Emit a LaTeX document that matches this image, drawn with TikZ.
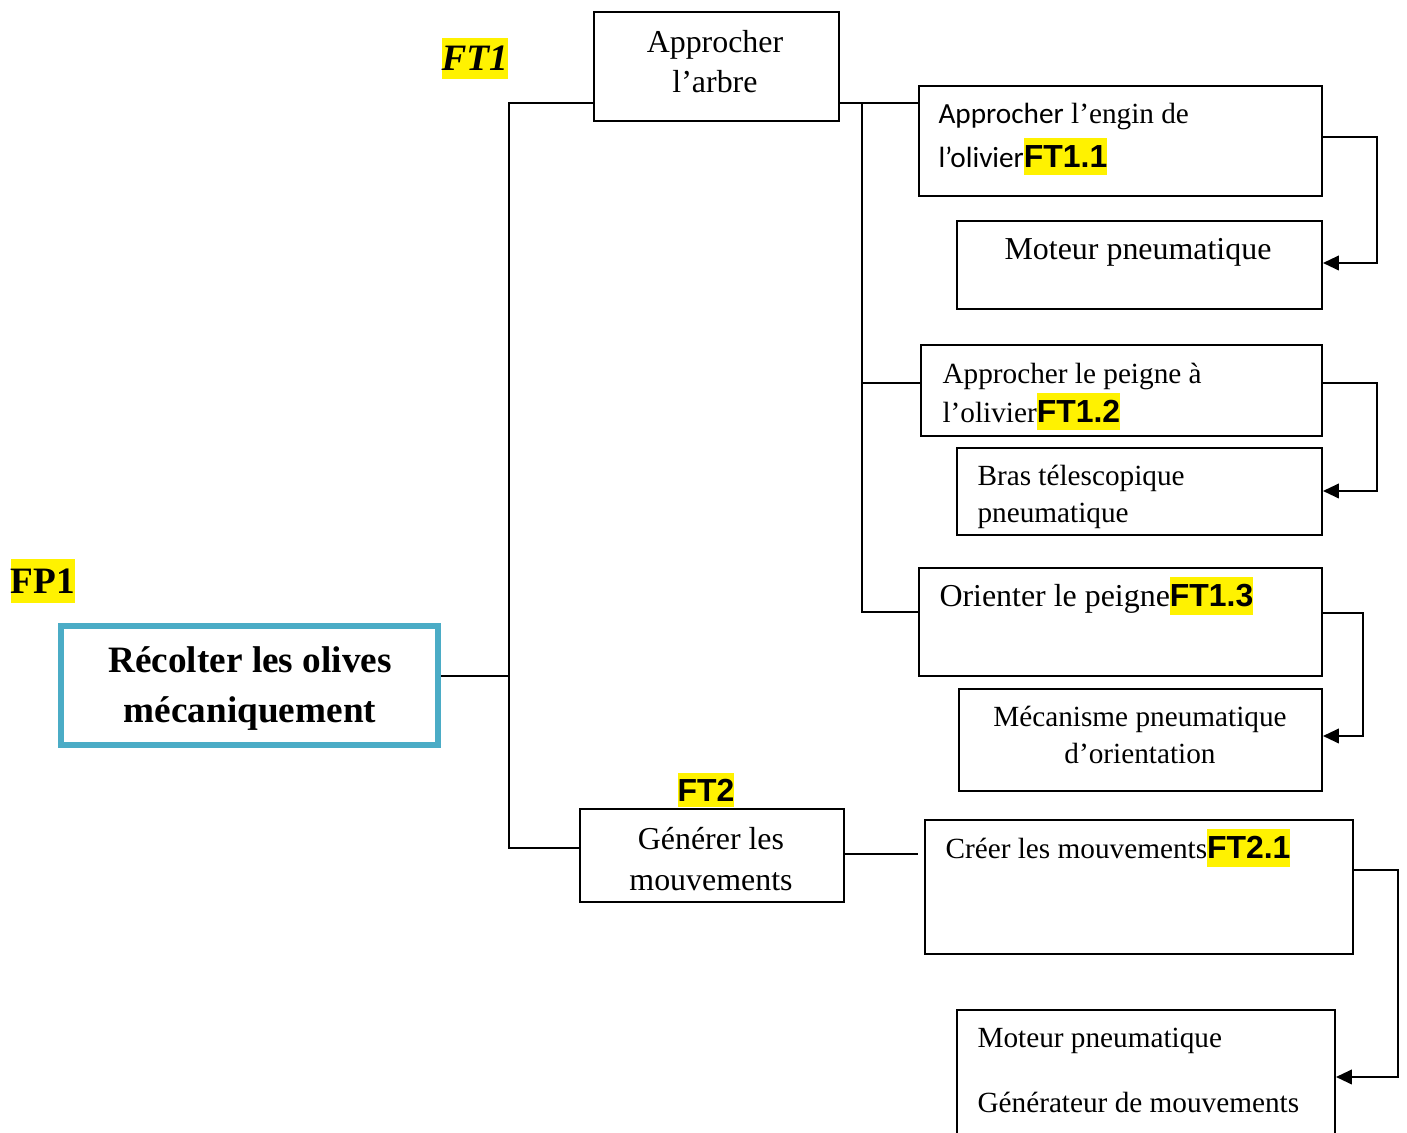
\documentclass[tikz,border=0pt]{standalone}
\usepackage{fontspec}
\setmainfont{Liberation Serif}
\newfontfamily\arialf{Liberation Sans}
\newfontfamily\calibf{Carlito}
\usetikzlibrary{arrows.meta}

\definecolor{fpblue}{RGB}{75,172,198}
\newlength\pxu
\setlength\pxu{0.376pt}
\newcommand\topln{\rule{0pt}{12pt}}
\newcommand\ftmark[1]{{\fontsize{12}{14}\selectfont\setlength{\fboxsep}{0pt}\colorbox{yellow}{\rule[-3pt]{0pt}{14.2pt}\arialf\bfseries #1}}}

\tikzset{
  box/.style={draw, line width=0.75pt, inner sep=0pt, anchor=north west},
  boxwh/.style 2 args={minimum width={#1*\pxu}, minimum height={#2*\pxu}},
  txt/.style 2 args={inner sep=0pt, align=left, font={\fontsize{#1}{#2}\selectfont\lineskiplimit=-20pt}},
  tag/.style={fill=yellow, inner sep=0pt, anchor=base west},
  link/.style={line width=0.75pt},
  feed/.style={line width=0.75pt, -{Triangle[length=6pt,width=5.5pt]}}
}

\begin{document}
\begin{tikzpicture}[x=0.376pt, y=-0.376pt]
  \clip (0,0) rectangle (1407,1133);

  % boxes
  \node[box, draw=fpblue, line width=2.26pt, boxwh={377}{119}] (fp1) at (58,623) {};
  \node[box, boxwh={245}{109}] (arbre) at (593,11) {};
  \node[box, boxwh={403}{110}] (b11) at (918,85) {};
  \node[box, boxwh={365}{88}]  (m11) at (956,220) {};
  \node[box, boxwh={401}{91}]  (b12) at (920,344) {};
  \node[box, boxwh={365}{87}]  (m12) at (956,447) {};
  \node[box, boxwh={403}{108}] (b13) at (918,567) {};
  \node[box, boxwh={363}{102}] (m13) at (958,688) {};
  \node[box, boxwh={264}{93}]  (gen) at (579,808) {};
  \node[box, boxwh={428}{134}] (b21) at (924,819) {};
  \node[box, boxwh={378}{140}] (m21) at (956,1009) {};

  % texts
  \node[txt={14}{18.8pt}, align=center, anchor=north, font={\fontsize{14}{18.8}\selectfont\lineskiplimit=-20pt\bfseries}]
    (fp1t) at (250,640) {\topln R\'ecolter les olives\\m\'ecaniquement};
  \node[txt={12}{15pt}, align=center, anchor=north] (arbret) at (715,20) {\topln Approcher\\l’arbre};
  \node[txt={11}{16.5pt}, anchor=north west] (b11t) at (938,91)
    {\topln{\calibf Approcher} l’engin de\\{\calibf l’olivier}\ftmark{FT1.1}};
  \node[txt={12}{15pt}, anchor=base] (m11t) at (1138,260) {Moteur pneumatique};
  \node[txt={11}{14.66pt}, anchor=north west] (b12t) at (942,351)
    {\topln Approcher le peigne \`a\\l’olivier\ftmark{FT1.2}};
  \node[txt={11}{13.9pt}, anchor=north west] (m12t) at (977,453) {\topln Bras t\'elescopique\\pneumatique};
  \node[txt={12}{15pt}, anchor=base west] (b13t) at (939,607) {Orienter le peigne\ftmark{FT1.3}};
  \node[txt={11}{13.9pt}, align=center, anchor=north] (m13t) at (1140,694)
    {\topln M\'ecanisme pneumatique\\d’orientation};
  \node[txt={12}{15.4pt}, align=center, anchor=north] (gent) at (711,817) {\topln G\'en\'erer les\\mouvements};
  \node[txt={11}{15pt}, anchor=base west] (b21t) at (945,859) {Cr\'eer les mouvements\ftmark{FT2.1}};
  \node[txt={11}{24.4pt}, anchor=north west] (m21t) at (977,1015)
    {\topln Moteur pneumatique\\G\'en\'erateur de mouvements};

  % function tags
  \node[tag, text height=13.2pt, text depth=3.4pt, font=\fontsize{14}{16}\selectfont\bfseries] (fp1tag) at (10,594) {FP1};
  \node[tag, text height=12.4pt, text depth=3pt, font=\fontsize{14}{16}\selectfont\bfseries\itshape] (ft1tag) at (441,71) {FT1};
  \node[tag, text height=10.9pt, text depth=1.9pt, font=\fontsize{12}{14}\selectfont\arialf\bfseries] (ft2tag) at (677,802) {FT2};

  % tree lines
  \coordinate (t0) at (509,676);
  \coordinate (t1) at (509,103);
  \coordinate (t2) at (509,848);
  \draw[link] (fp1.east |- t0) -- (t0);
  \draw[link] (arbre.west |- t1) -- (t1) -- (t2) -- (gen.west |- t2);
  \coordinate (s1) at (862,103);
  \coordinate (s2) at (862,612);
  \coordinate (s3) at (862,383);
  \draw[link] (arbre.east |- s1) -- (b11.west |- s1);
  \draw[link] (s1) -- (s2) -- (b13.west |- s2);
  \draw[link] (s3) -- (b12.west |- s3);
  \coordinate (g1) at (918,854);
  \draw[link] (gen.east |- g1) -- (g1);

  % solution arrows
  \coordinate (r1a) at (1377,137);
  \coordinate (r1b) at (1377,263);
  \draw[feed] (b11.east |- r1a) -- (r1a) -- (r1b) -- (m11.east |- r1b);
  \coordinate (r2a) at (1377,383);
  \coordinate (r2b) at (1377,491);
  \draw[feed] (b12.east |- r2a) -- (r2a) -- (r2b) -- (m12.east |- r2b);
  \coordinate (r3a) at (1363,613);
  \coordinate (r3b) at (1363,736);
  \draw[feed] (b13.east |- r3a) -- (r3a) -- (r3b) -- (m13.east |- r3b);
  \coordinate (r4a) at (1398,870);
  \coordinate (r4b) at (1398,1077);
  \draw[feed] (b21.east |- r4a) -- (r4a) -- (r4b) -- (m21.east |- r4b);
\end{tikzpicture}
\end{document}
